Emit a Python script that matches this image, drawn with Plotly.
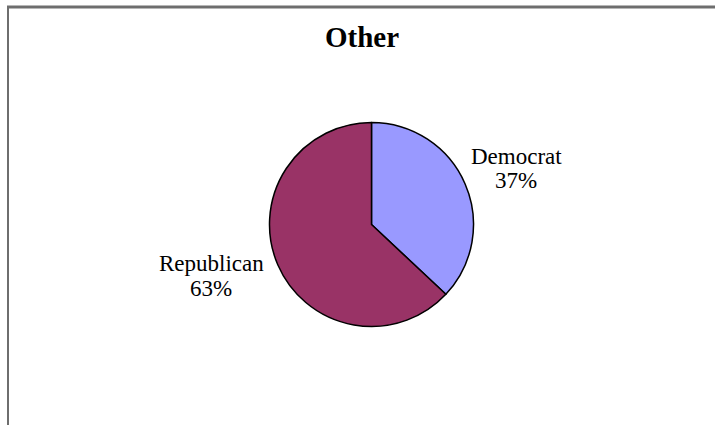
import plotly.graph_objects as go

parties = ["Democrat", "Republican"]
shares = [37, 63]
colors = ["#9999FF", "#993366"]

W, H = 715, 425
cx, cy, r = 371.5, 224.5, 102

fig = go.Figure(go.Pie(
    labels=parties,
    values=shares,
    sort=False,
    direction="clockwise",
    rotation=0,
    marker=dict(colors=colors, line=dict(color="black", width=1.5)),
    textinfo="none",
    hoverinfo="label+percent",
    showlegend=False,
    domain=dict(x=[(cx - r) / W, (cx + r) / W],
                y=[(H - cy - r) / H, (H - cy + r) / H]),
))

serif = "Liberation Serif"
total = sum(shares)
# (x centre, y of name line, y of percent line) in pixels from top-left
label_pos = {"Democrat": (516, 156, 180), "Republican": (211, 263, 288)}
annotations = []
for name, v in zip(parties, shares):
    px, py1, py2 = label_pos[name]
    for text, py in ((name, py1), (f"{round(100 * v / total)}%", py2)):
        annotations.append(dict(
            x=px / W, y=1 - py / H, xref="paper", yref="paper",
            xanchor="center", yanchor="middle",
            text=text, showarrow=False,
            font=dict(family=serif, size=23, color="black"),
        ))
annotations.append(dict(
    x=361.5 / W, y=1 - 37 / H, xref="paper", yref="paper",
    xanchor="center", yanchor="middle",
    text="<b>Other</b>", showarrow=False,
    font=dict(family=serif, size=29, color="black"),
))

shapes = [
    dict(type="line", xref="paper", yref="paper",
         x0=7 / W, x1=1, y0=1 - 7 / H, y1=1 - 7 / H,
         line=dict(color="#6e6e6e", width=3)),
    dict(type="line", xref="paper", yref="paper",
         x0=8 / W, x1=8 / W, y0=0, y1=1 - 6 / H,
         line=dict(color="#6e6e6e", width=2)),
]

fig.update_layout(
    width=W, height=H,
    margin=dict(l=0, r=0, t=0, b=0),
    paper_bgcolor="white", plot_bgcolor="white",
    annotations=annotations, shapes=shapes,
)
fig.write_html("out.html")
